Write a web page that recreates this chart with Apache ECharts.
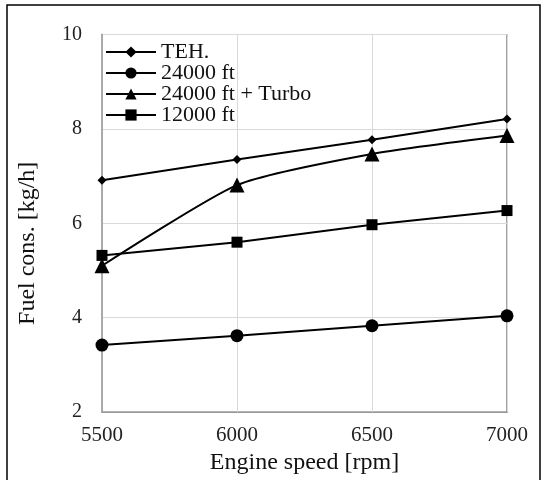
<!DOCTYPE html>
<html>
<head>
<meta charset="utf-8">
<script src="https://cdn.jsdelivr.net/npm/echarts@6/dist/echarts.min.js"></script>
<style>
html,body{margin:0;padding:0;background:#fff;}
#chart{width:541px;height:480px;}
</style>
</head>
<body>
<div id="chart"></div>
<script>
var speeds = [5500, 6000, 6500, 7000];
var teh = [6.91, 7.35, 7.77, 8.21];
var ft24000 = [3.42, 3.62, 3.83, 4.04];
var ft24000Turbo = [5.10, 6.81, 7.47, 7.86];
var ft12000 = [5.32, 5.60, 5.97, 6.27];
var seriesNames = ['TEH.', '24000 ft', '24000 ft + Turbo', '12000 ft'];
var xTicks = [5500, 6000, 6500, 7000];
var yTicks = [2, 4, 6, 8, 10];

var FONT = '"Liberation Serif", "Times New Roman", serif';

function pairs(ys) { return speeds.map(function (x, i) { return [x, ys[i]]; }); }

var chart = echarts.init(document.getElementById('chart'), null, {renderer: 'canvas'});

function mkSeries(name, data, symbol, size, smooth) {
  return {
    name: name,
    type: 'line',
    data: pairs(data),
    symbol: symbol,
    symbolSize: size,
    smooth: smooth,
    lineStyle: {color: '#000', width: 2},
    itemStyle: {color: '#000'},
    z: 3
  };
}

chart.setOption({
  animation: false,
  backgroundColor: '#fff',
  graphic: [{
    type: 'rect',
    shape: {x: 7, y: 5, width: 533, height: 500},
    style: {fill: 'none', stroke: '#000', lineWidth: 1.5},
    silent: true,
    z: -1
  }],
  grid: {
    left: 102, right: 34, top: 34.5, bottom: 64.5,
    show: true, borderColor: '#666', borderWidth: 1.2, backgroundColor: 'transparent'
  },
  legend: {
    left: 105, top: 41, padding: 0, orient: 'vertical',
    itemWidth: 50, itemHeight: 14, itemGap: -1,
    data: seriesNames,
    textStyle: {fontFamily: FONT, fontSize: 22, color: '#111', lineHeight: 20}
  },
  xAxis: {
    type: 'value', min: xTicks[0], max: xTicks[xTicks.length - 1], interval: 500,
    name: 'Engine speed [rpm]', nameLocation: 'middle', nameGap: 33,
    nameTextStyle: {fontFamily: FONT, fontSize: 24, color: '#111'},
    axisLine: {show: true, lineStyle: {color: '#999', width: 1.2}},
    axisTick: {show: false},
    axisLabel: {fontFamily: FONT, fontSize: 21, color: '#222', margin: 13,
      formatter: function (v) { return String(v); }},
    splitLine: {show: true, lineStyle: {color: '#d9d9d9', width: 1}}
  },
  yAxis: {
    type: 'value', min: yTicks[0], max: yTicks[yTicks.length - 1], interval: 2,
    name: 'Fuel cons. [kg/h]', nameLocation: 'middle', nameGap: 62,
    nameTextStyle: {fontFamily: FONT, fontSize: 24, color: '#111', padding: [0, 40, 0, 0]},
    axisLine: {show: true, lineStyle: {color: '#aaa', width: 2}},
    axisTick: {show: false},
    axisLabel: {fontFamily: FONT, fontSize: 20, color: '#222', margin: 20},
    splitLine: {show: true, lineStyle: {color: '#d9d9d9', width: 1}}
  },
  series: [
    mkSeries(seriesNames[0], teh, 'diamond', 9, false),
    mkSeries(seriesNames[1], ft24000, 'circle', 13, false),
    mkSeries(seriesNames[2], ft24000Turbo, 'triangle', 15, 0.2),
    mkSeries(seriesNames[3], ft12000, 'rect', 11, false)
  ]
});
</script>
</body>
</html>
